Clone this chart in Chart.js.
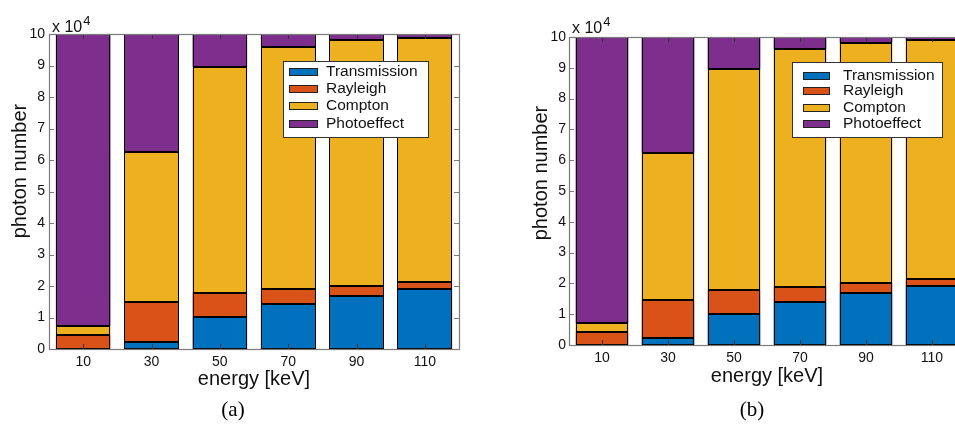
<!DOCTYPE html>
<html>
<head>
<meta charset="utf-8">
<script src="https://cdn.jsdelivr.net/npm/chart.js@4.4.0/dist/chart.umd.min.js"></script>
<style>
  html, body { margin: 0; padding: 0; background: #fff; }
  body { width: 955px; height: 426px; overflow: hidden; position: relative; }
  .panel { position: absolute; top: 0; }
  #panel-a { left: 0; }
  #panel-b { left: 480px; }
  .caption {
    position: absolute; top: 397px;
    font-family: "Liberation Serif", "DejaVu Serif", serif;
    font-size: 21px; color: #000;
    transform: translateX(-50%);
  }
</style>
</head>
<body>
<div class="panel" id="panel-a"><canvas id="chart-a" width="478" height="426"></canvas></div>
<div class="panel" id="panel-b"><canvas id="chart-b" width="500" height="426"></canvas></div>
<div class="caption" style="left:233px">(a)</div>
<div class="caption" style="left:752px">(b)</div>

<script>
// ---- data (photon counts in units of 1e4) ----
const energies = ['10', '30', '50', '70', '90', '110'];
const seriesNames = ['Transmission', 'Rayleigh', 'Compton', 'Photoeffect'];
const seriesColors = ['#0072BD', '#D95319', '#EDB120', '#7E2F8E'];
const yTicks = [0, 1, 2, 3, 4, 5, 6, 7, 8, 9, 10];

// panel (a)
const transA    = [0.00, 0.23, 1.03, 1.44, 1.69, 1.92];
const rayleighA = [0.44, 1.25, 0.76, 0.48, 0.32, 0.22];
const comptonA  = [0.30, 4.77, 7.17, 7.68, 7.80, 7.74];
const photoA    = [9.26, 3.75, 1.04, 0.40, 0.19, 0.12];

// panel (b)
const transB    = [0.00, 0.23, 1.00, 1.40, 1.69, 1.90];
const rayleighB = [0.42, 1.24, 0.79, 0.49, 0.33, 0.23];
const comptonB  = [0.29, 4.77, 7.16, 7.72, 7.80, 7.77];
const photoB    = [9.29, 3.76, 1.05, 0.39, 0.18, 0.10];

const FONT = '"Liberation Sans", Arial, sans-serif';
const FRAME = '#7a7a7a';

// bar outlines, frame, inward ticks, labels and legend (matlab look)
const matlabAxes = {
  id: 'matlabAxes',
  afterDatasetsDraw(chart) {
    const { ctx, chartArea: a, scales: { x, y } } = chart;
    const tl = 5;
    ctx.save();

    // crisp 1px black outline round every bar segment
    ctx.strokeStyle = '#000';
    ctx.lineWidth = 1;
    chart.data.datasets.forEach((ds, i) => {
      chart.getDatasetMeta(i).data.forEach(el => {
        const p = el.getProps(['x', 'y', 'base', 'width'], true);
        const l = Math.round(p.x - p.width / 2), r = Math.round(p.x + p.width / 2);
        const t = Math.round(Math.min(p.y, p.base)), b = Math.round(Math.max(p.y, p.base));
        ctx.strokeRect(l + 0.5, t + 0.5, r - l - 1, Math.max(b - t - 1, 0));
      });
    });

    ctx.strokeStyle = '#333';
    ctx.beginPath();
    x.ticks.forEach((t, i) => {
      const px = Math.round(x.getPixelForTick(i)) + 0.5;
      ctx.moveTo(px, a.bottom); ctx.lineTo(px, a.bottom - tl);
      ctx.moveTo(px, a.top); ctx.lineTo(px, a.top + tl);
    });
    ctx.stroke();
    ctx.strokeStyle = FRAME;
    ctx.beginPath();
    y.ticks.forEach(t => {
      const py = Math.round(y.getPixelForValue(t.value)) + 0.5;
      ctx.moveTo(a.left, py); ctx.lineTo(a.left + tl, py);
      ctx.moveTo(a.right, py); ctx.lineTo(a.right - tl, py);
    });
    ctx.stroke();
    ctx.lineWidth = 1.2;
    ctx.strokeRect(Math.round(a.left) + 0.5, Math.round(a.top) + 0.5,
                   Math.round(a.right - a.left), Math.round(a.bottom - a.top));
    ctx.restore();
  },
  afterDraw(chart, args, opts) {
    const { ctx, chartArea: a } = chart;
    ctx.save();
    ctx.fillStyle = '#111';

    // y title, placed like matlab (a bit above the axis centre)
    ctx.save();
    ctx.translate(opts.yTitle.x, opts.yTitle.y);
    ctx.rotate(-Math.PI / 2);
    ctx.font = '20px ' + FONT;
    ctx.textAlign = 'center';
    ctx.textBaseline = 'middle';
    ctx.fillText('photon number', 0, 0);
    ctx.restore();

    // exponent label
    ctx.textBaseline = 'alphabetic';
    ctx.font = '16px ' + FONT;
    ctx.fillText('x 10', a.left + opts.expDx, a.top + opts.expDy);
    const w = ctx.measureText('x 10').width;
    ctx.font = '13px ' + FONT;
    ctx.fillText('4', a.left + opts.expDx + w + 1, a.top + opts.expDy - 7);

    // legend box
    const L = opts.legend;
    const bx = a.left + L.dx, by = a.top + L.dy;
    ctx.fillStyle = '#fff';
    ctx.fillRect(bx, by, L.w, L.h);
    ctx.strokeStyle = '#333';
    ctx.lineWidth = 1;
    ctx.strokeRect(bx + 0.5, by + 0.5, L.w, L.h);
    ctx.font = L.font + 'px ' + FONT;
    ctx.textBaseline = 'middle';
    chart.data.datasets.forEach((ds, i) => {
      const ry = by + L.rows[i];
      ctx.fillStyle = ds.backgroundColor;
      ctx.fillRect(bx + L.sx, ry - 4, L.sw, 8);
      ctx.strokeStyle = '#222';
      ctx.strokeRect(bx + L.sx + 0.5, ry - 3.5, L.sw - 1, 7);
      ctx.fillStyle = '#111';
      ctx.fillText(ds.label, bx + L.tx, ry);
    });
    ctx.restore();
  }
};

function makeChart(id, series, geo) {
  const datasets = series.map((vals, i) => ({
    label: seriesNames[i],
    data: vals,
    backgroundColor: seriesColors[i],
    borderWidth: 0,
    barPercentage: 0.8,
    categoryPercentage: 1.0
  }));

  return new Chart(document.getElementById(id), {
    type: 'bar',
    data: { labels: energies, datasets },
    plugins: [matlabAxes],
    options: {
      responsive: false,
      animation: false,
      layout: { padding: geo.pad },
      plugins: {
        legend: { display: false },
        tooltip: { enabled: false },
        matlabAxes: { expDx: geo.expDx, expDy: geo.expDy, yTitle: geo.yTitle, legend: geo.legend }
      },
      scales: {
        x: {
          stacked: true,
          grid: { display: false, drawTicks: false },
          border: { display: false },
          ticks: { color: '#111', font: { family: FONT, size: 14 }, padding: 5 },
          title: {
            display: true, text: 'energy [keV]', color: '#111',
            font: { family: FONT, size: 20 }, padding: 0
          },
          afterFit(s) { s.height = geo.xh; }
        },
        y: {
          stacked: true,
          min: 0, max: 10,
          grid: { display: false, drawTicks: false },
          border: { display: false },
          afterBuildTicks(s) { s.ticks = yTicks.map(v => ({ value: v })); },
          ticks: { color: '#111', font: { family: FONT, size: 14 }, padding: geo.ytp },
          title: { display: false },
          afterFit(s) { s.width = geo.yw; }
        }
      }
    }
  });
}

makeChart('chart-a', [transA, rayleighA, comptonA, photoA], {
  pad: { left: 0, top: 34, right: 19, bottom: 35 },
  yw: 49, xh: 42, ytp: 4, expDx: 3, expDy: -2,
  yTitle: { x: 20, y: 171 },
  legend: { dx: 234, dy: 27, w: 145, h: 76, rows: [11, 28, 45, 63], sx: 6, sw: 29, tx: 43, font: 15.5 }
});

makeChart('chart-b', [transB, rayleighB, comptonB, photoB], {
  pad: { left: 42, top: 37, right: 15, bottom: 38 },
  yw: 47, xh: 43, ytp: 3, expDx: 3, expDy: -4,
  yTitle: { x: 61, y: 173 },
  legend: { dx: 223, dy: 25, w: 150, h: 75, rows: [14, 29, 46, 62], sx: 11, sw: 27, tx: 51, font: 15.5 }
});
</script>
</body>
</html>
